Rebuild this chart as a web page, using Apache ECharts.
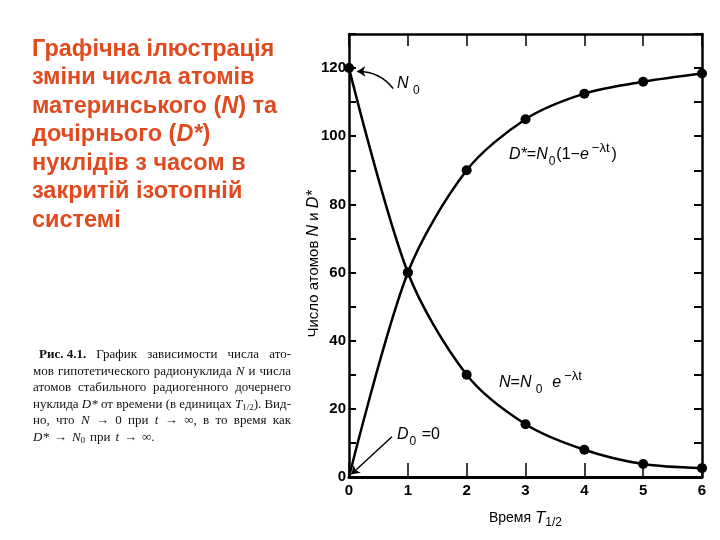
<!DOCTYPE html>
<html>
<head>
<meta charset="utf-8">
<script src="https://cdn.jsdelivr.net/npm/echarts@6/dist/echarts.min.js"></script>
<style>
  html, body { margin: 0; padding: 0; background: #fff; }
  #main { width: 720px; height: 540px; }
</style>
</head>
<body>
<div id="main"></div>
<script>
// час у періодах напіврозпаду
var times = [0, 1, 2, 3, 4, 5, 6]
// материнський нуклід N
var parentN = [120, 60, 30, 15.5, 8, 3.8, 2.6]
// дочірній нуклід D*
var daughterD = [0, 60, 90, 105, 112.5, 116, 118.4]
var xTicks = [0, 1, 2, 3, 4, 5, 6]
var yTickLabels = [0, 20, 40, 60, 80, 100, 120]

var headingLines = [
  "Графічна ілюстрація",
  "зміни числа атомів",
  "материнського ({i|N}) та",
  "дочірнього ({i|D*})",
  "нуклідів з часом в",
  "закритій ізотопній",
  "системі"
]
// підпис, по словах (для вирівнювання по ширині)
var captionWords = [
  ["{b|Рис. 4.1.}", "График", "зависимости", "числа", "ато-"],
  ["мов", "гипотетического", "радионуклида", "{i|N}", "и", "числа"],
  ["атомов", "стабильного", "радиогенного", "дочернего"],
  ["нуклида", "{i|D*}", "от", "времени", "(в", "единицах", "{i|T}{s|1/2}).", "Вид-"],
  ["но,", "что", "{i|N}", "→", "0", "при", "{i|t}", "→", "∞,", "в", "то", "время", "как"],
  ["{i|D*}", "→", "{i|N}{s|0}", "при", "{i|t}", "→", "∞."]
]

var chartDom = document.getElementById("main")
var myChart = echarts.init(chartDom)
var option

var fontChart = "Liberation Sans, Arial, sans-serif"
var fontSerif = "Liberation Serif, Times New Roman, serif"

function pairs(ys, skipFirst) {
  return times.map(function (t, i) {
    if (skipFirst && i === 0) return { value: [t, ys[i]], symbol: "none" }
    return [t, ys[i]]
  })
}

// вимірювання слів підпису
var measureCtx = document.createElement("canvas").getContext("2d")
var capFonts = {
  p: "13px " + fontSerif,
  b: "bold 13px " + fontSerif,
  i: "italic 13px " + fontSerif,
  s: "9px " + fontSerif
}
function wordWidth(word) {
  var re = /\{(\w+)\|([^}]*)\}|([^{]+)/g
  var m, w = 0
  while ((m = re.exec(word))) {
    measureCtx.font = m[1] ? capFonts[m[1]] : capFonts.p
    w += measureCtx.measureText(m[1] ? m[2] : m[3]).width
  }
  return w
}

var formulaRich = {
  n: { fontSize: 16, fontFamily: fontChart, color: "#000", lineHeight: 26, verticalAlign: "middle" },
  i: { fontSize: 16, fontFamily: fontChart, fontStyle: "italic", color: "#000", lineHeight: 26, verticalAlign: "middle" },
  sub: { fontSize: 12, fontFamily: fontChart, color: "#000", lineHeight: 26, verticalAlign: "bottom", padding: [0, 1, 0, 1] },
  sup: { fontSize: 13, fontFamily: fontChart, color: "#000", lineHeight: 26, verticalAlign: "top", padding: [0, 2, 0, 3] }
}

var graphics = []
graphics.push({
  type: "text",
  left: 32,
  top: 35,
  style: {
    text: headingLines.join("\n"),
    font: "bold 23.5px Liberation Sans, Arial, sans-serif",
    fill: "#E04A1F",
    lineHeight: 28.5,
    rich: {
      i: { fontSize: 23.5, fontWeight: "bold", fontStyle: "italic", fontFamily: fontChart, fill: "#E04A1F", lineHeight: 28.5 }
    }
  }
})

var capLeft = 33
var capRight = 291
captionWords.forEach(function (words, k) {
  var x0 = k === 0 ? 39 : capLeft
  var widths = words.map(wordWidth)
  var total = widths.reduce(function (a, b) { return a + b }, 0)
  var gap = (capRight - x0 - total) / (words.length - 1)
  if (k === captionWords.length - 1) gap = 5
  var x = x0
  words.forEach(function (w, j) {
    graphics.push({
      type: "text",
      x: x,
      y: 355 + k * 16.5,
      style: {
        text: w,
        font: capFonts.p,
        fill: "#111",
        verticalAlign: "middle",
        rich: {
          b: { fontWeight: "bold", fontSize: 13, fontFamily: fontSerif, fill: "#111", lineHeight: 16 },
          i: { fontStyle: "italic", fontSize: 13, fontFamily: fontSerif, fill: "#111", lineHeight: 16 },
          s: { fontSize: 9, fontFamily: fontSerif, fill: "#111", verticalAlign: "bottom", lineHeight: 16 }
        }
      }
    })
    x += widths[j] + gap
  })
})

graphics.push({
  type: "text",
  x: 314,
  y: 264,
  rotation: Math.PI / 2,
  style: {
    text: "Число атомов {i|N} и {i|D*}",
    font: "15px Liberation Sans, Arial, sans-serif",
    fill: "#000",
    align: "center",
    verticalAlign: "middle",
    rich: {
      i: { fontSize: 16, fontStyle: "italic", fontFamily: fontChart, fill: "#000" }
    }
  }
})
graphics.push({
  type: "text", left: 397, top: 76,
  style: { text: "{i|N}{sub| 0}", rich: formulaRich }
})
graphics.push({
  type: "text", left: 509, top: 142,
  style: { text: "{i|D*}{n|=}{i|N}{sub|0}{n|(1−}{i|e}{sup|−λt}{n|)}", rich: formulaRich }
})
graphics.push({
  type: "text", left: 499, top: 370,
  style: { text: "{i|N}{n|=}{i|N}{sub| 0}{n|  }{i|e}{sup|−λt}", rich: formulaRich }
})
graphics.push({
  type: "text", left: 397, top: 427,
  style: { text: "{i|D}{sub|0}{n| =0}", rich: formulaRich }
})

option = {
  backgroundColor: "#fff",
  animation: false,
  grid: { left: 349, right: 18, top: 34, bottom: 63 },
  graphic: graphics,
  xAxis: [
    {
      type: "value",
      position: "bottom",
      min: xTicks[0],
      max: xTicks[xTicks.length - 1],
      interval: 1,
      name: "Время {i|T}{s|1/2}",
      nameLocation: "middle",
      nameGap: 30,
      nameTextStyle: {
        fontSize: 14,
        fontFamily: fontChart,
        color: "#000",
        rich: {
          i: { fontSize: 17, fontStyle: "italic", fontFamily: fontChart, color: "#000", lineHeight: 22, verticalAlign: "middle" },
          s: { fontSize: 12, fontFamily: fontChart, color: "#000", lineHeight: 22, verticalAlign: "bottom" }
        }
      },
      axisLine: { onZero: false, lineStyle: { color: "#000", width: 3 } },
      axisTick: { inside: true, length: 14, lineStyle: { color: "#000", width: 1.5 } },
      axisLabel: { fontSize: 15, fontWeight: "bold", fontFamily: fontChart, color: "#000", margin: 6 },
      splitLine: { show: false }
    },
    {
      type: "value",
      position: "top",
      min: xTicks[0],
      max: xTicks[xTicks.length - 1],
      interval: 1,
      axisLine: { onZero: false, lineStyle: { color: "#000", width: 2.5 } },
      axisTick: { inside: true, length: 12, lineStyle: { color: "#000", width: 1.5 } },
      axisLabel: { show: false },
      splitLine: { show: false }
    }
  ],
  yAxis: [
    {
      type: "value",
      position: "left",
      min: 0,
      max: 130,
      interval: 10,
      axisLine: { onZero: false, lineStyle: { color: "#000", width: 2.5 } },
      axisTick: { inside: true, length: 7, lineStyle: { color: "#000", width: 2 } },
      axisLabel: {
        fontSize: 15,
        fontWeight: "bold",
        fontFamily: fontChart,
        color: "#000",
        margin: 3,
        formatter: function (v) {
          return yTickLabels.indexOf(v) >= 0 ? String(v) : ""
        }
      },
      splitLine: { show: false }
    },
    {
      type: "value",
      position: "right",
      min: 0,
      max: 130,
      interval: 10,
      axisLine: { onZero: false, lineStyle: { color: "#000", width: 2.5 } },
      axisTick: { inside: true, length: 8, lineStyle: { color: "#000", width: 2 } },
      axisLabel: { show: false },
      splitLine: { show: false }
    }
  ],
  series: [
    {
      name: "N",
      type: "line",
      data: pairs(parentN, false),
      smooth: 0.3,
      symbol: "circle",
      symbolSize: 10,
      clip: false,
      lineStyle: { color: "#000", width: 2.5 },
      itemStyle: { color: "#000" }
    },
    {
      name: "D*",
      type: "line",
      data: pairs(daughterD, true),
      smooth: 0.3,
      symbol: "circle",
      symbolSize: 10,
      clip: false,
      lineStyle: { color: "#000", width: 2.5 },
      itemStyle: { color: "#000" }
    },
    {
      name: "arrows",
      type: "lines",
      coordinateSystem: "cartesian2d",
      symbol: ["none", "arrow"],
      symbolSize: 8,
      lineStyle: { color: "#000", width: 1.5, opacity: 1 },
      data: [
        { coords: [[0.75, 114], [0.14, 119]], lineStyle: { curveness: -0.25 } },
        { coords: [[0.73, 11.8], [0.04, 0.8]], lineStyle: { curveness: 0 } }
      ]
    }
  ]
}

option && myChart.setOption(option)
</script>
</body>
</html>
